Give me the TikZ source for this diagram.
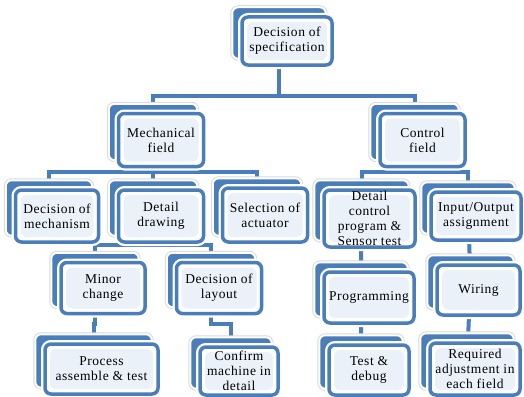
\documentclass[tikz,border=0pt]{standalone}
\usepackage{fontspec}
\setmainfont{Liberation Serif}
\usetikzlibrary{positioning, fit, backgrounds}
\definecolor{boxblue}{RGB}{74,126,187}
\definecolor{boxfill}{RGB}{234,241,249}
\pgfdeclarelayer{links}
\pgfdeclarelayer{back}
\pgfsetlayers{links,back,main}

\tikzset{
  card/.style={draw=boxblue, line width=3.5pt, rounded corners=6pt, fill=white,
    preaction={draw=white, line width=8pt},
    path picture={\fill[boxfill] ([xshift=5pt,yshift=-5pt]path picture bounding box.north west) rectangle ([xshift=-5pt,yshift=5pt]path picture bounding box.south east);},
    align=center, inner sep=0pt,
    font=\fontsize{13.5}{15}\selectfont\addfontfeature{LetterSpace=4}},
  cardback/.style={fill=boxblue, draw=white, line width=2pt, rounded corners=6pt, inner sep=0pt,
    preaction={draw=black!15, line width=4pt}},
  link/.style={draw=boxblue, line width=4pt}
}

\begin{document}
\begin{tikzpicture}[x=1pt, y=-1pt]
    \useasboundingbox (0,0) rectangle (524,396);

    % Top
    \node[card, minimum width=90pt, minimum height=48pt] (root) at (287,41) {Decision of\\specification};

    % Fields
    \node[card, minimum width=85pt, minimum height=53pt] (mech) at (161,140) {Mechanical\\field};
    \node[card, minimum width=85pt, minimum height=53pt] (ctrl) at (422.5,140) {Control\\field};

    % Mechanical field
    \node[card, minimum width=83pt, minimum height=52pt] (mechanism) at (57,216) {Decision of\\mechanism};
    \node[card, minimum width=85pt, minimum height=52pt] (drawing) at (161,216) {Detail\\drawing};
    \node[card, minimum width=85pt, minimum height=54pt] (actuator) at (265,215) {Selection of\\actuator};
    \node[card, minimum width=84pt, minimum height=51pt] (minor) at (103,288) {Minor\\change};
    \node[card, minimum width=85pt, minimum height=51pt] (layout) at (219,288) {Decision of\\layout};
    \node[card, minimum width=113pt, minimum height=50pt] (process) at (101.5,369) {Process\\assemble \& test};
    \node[card, minimum width=78pt, minimum height=48pt] (confirm) at (239,371) {Confirm\\machine in\\detail};

    % Control field
    \node[card, minimum width=91pt, minimum height=57pt] (detctrl) at (369.5,218.5) {Detail\\control\\program \&\\Sensor test};
    \node[card, minimum width=90pt, minimum height=48pt] (io) at (476,216) {Input/Output\\assignment};
    \node[card, minimum width=90pt, minimum height=51pt] (prog) at (369,297.5) {Programming};
    \node[card, minimum width=83pt, minimum height=50pt] (wiring) at (478.5,290) {Wiring};
    \node[card, minimum width=80pt, minimum height=50pt] (testdebug) at (369,370) {Test \&\\debug};
    \node[card, minimum width=90pt, minimum height=52pt] (required) at (475,369) {Required\\adjustment in\\each field};

    % Offset back plates
    \begin{pgfonlayer}{back}
    \foreach \n in {root,mech,ctrl,mechanism,drawing,actuator,minor,layout,process,confirm,detctrl,io,prog,wiring,testdebug,required}
        \node[cardback, fit=(\n), xshift=-8pt, yshift=8pt] (\n-b) {};
    \end{pgfonlayer}

    % Connectors
    \coordinate (bus1) at (0,96);
    \coordinate (bus2) at (0,172);
    \coordinate (bus3) at (0,245);
    \coordinate (bus4) at (0,324);
    \begin{pgfonlayer}{links}
    \draw[link] (root-b) -- (root-b |- bus1) -| (mech-b);
    \draw[link] (root-b |- bus1) -| (ctrl-b);
    \draw[link] (mech-b) -- (mech-b |- bus2) -| (mechanism-b);
    \draw[link] (mech-b |- bus2) -| (actuator-b);
    \draw[link] (mech-b) -- (drawing-b);
    \draw[link] (ctrl-b) -- (ctrl-b |- bus2) -| (detctrl-b);
    \draw[link] (ctrl-b |- bus2) -| (io-b);
    \draw[link] (drawing-b) -- (drawing-b |- bus3) -| (minor-b);
    \draw[link] (drawing-b |- bus3) -| (layout-b);
    \draw[link] (minor-b) -- (minor-b |- bus4) -| (process-b);
    \draw[link] (layout-b) -- (layout-b |- bus4) -| (confirm-b);
    \draw[link] (detctrl-b) -- (prog-b) -- (testdebug-b);
    \draw[link] (io-b) -- (wiring-b) -- (required-b);
    \end{pgfonlayer}
\end{tikzpicture}
\end{document}
